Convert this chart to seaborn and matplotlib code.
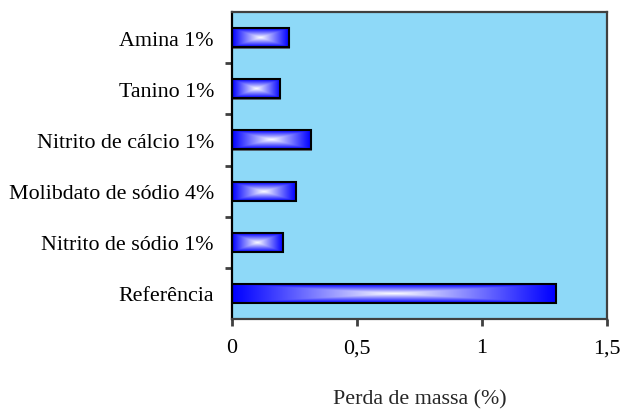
import numpy as np
import pandas as pd
import matplotlib
matplotlib.use("Agg")
import matplotlib.pyplot as plt
import seaborn as sns

# Mass loss per inhibitor (%)
categories = ["Amina 1%", "Tanino 1%", "Nitrito de cálcio 1%",
              "Molibdato de sódio 4%", "Nitrito de sódio 1%", "Referência"]
perda = [0.226, 0.193, 0.315, 0.256, 0.204, 1.294]
xticks = [0, 0.5, 1, 1.5]
xtick_labels = ["0", "0,5", "1", "1,5"]

df = pd.DataFrame({"ensaio": categories, "perda": perda})

sns.set_style("white")
plt.rcParams["font.family"] = ["Liberation Serif", "DejaVu Serif"]

fig = plt.figure(figsize=(6.24, 4.10), dpi=100)
ax = fig.add_axes([232 / 624, 1 - 320 / 410, 375 / 624, 307 / 410])
ax.set_facecolor("#8ED9F8")

sns.barplot(data=df, x="perda", y="ensaio", orient="h", width=0.37,
            color="#0000FF", edgecolor="black", linewidth=1.5, ax=ax, zorder=2)

# Rectangular centre-out gradient: white in the middle, blue at the edges
blue = np.array([0.0, 0.0, 1.0])
white = np.array([1.0, 1.0, 1.0])
for p in list(ax.patches):
    x0, y0 = p.get_x(), p.get_y()
    w, h = p.get_width(), p.get_height()
    nx, ny = 400, 60
    xs = np.linspace(-1, 1, nx)
    ys = np.linspace(-1, 1, ny)
    X, Y = np.meshgrid(xs, ys)
    t = np.maximum(np.abs(X), np.abs(Y))
    mix = (1 - t) ** 1.05
    img = blue[None, None, :] * (1 - mix[..., None]) + white[None, None, :] * mix[..., None]
    im = ax.imshow(img, extent=[x0, x0 + w, y0 + h, y0], aspect="auto",
                   interpolation="bilinear", zorder=2.5)
    im.set_clip_path(p)
    # soft grey shadow behind each bar
    sh = plt.Rectangle((x0 + 0.004, y0 + 0.03), w, h, facecolor="#5a6a78",
                       edgecolor="none", zorder=1.9)
    ax.add_patch(sh)
    p.set_facecolor("none")
    p.set_zorder(3)

ax.set_xlim(0, 1.5)
ax.set_ylim(len(categories) - 0.5, -0.5)

ax.set_xticks(xticks)
ax.set_xticklabels(xtick_labels)
ax.set_yticks(range(len(categories)))
ax.set_yticklabels(categories)
ax.set_yticks(np.arange(-0.5, len(categories) - 0.4, 1.0)[1:-1], minor=True)

ax.tick_params(axis="y", which="major", length=0, pad=13, labelsize=15.8, colors="black")
ax.tick_params(axis="y", which="minor", left=True, length=5, width=2, color="#404040")
ax.tick_params(axis="x", which="major", bottom=True, length=5, width=2,
               color="#404040", pad=9, labelsize=15.8, labelcolor="black")

for side in ["top", "right", "bottom"]:
    ax.spines[side].set_color("#404040")
    ax.spines[side].set_linewidth(1.6)
ax.spines["left"].set_color("black")
ax.spines["left"].set_linewidth(1.6)

ax.set_ylabel("")
ax.set_xlabel("Perda de massa (%)", fontsize=15.8, labelpad=23)

fig.savefig("out.png", dpi=100)
